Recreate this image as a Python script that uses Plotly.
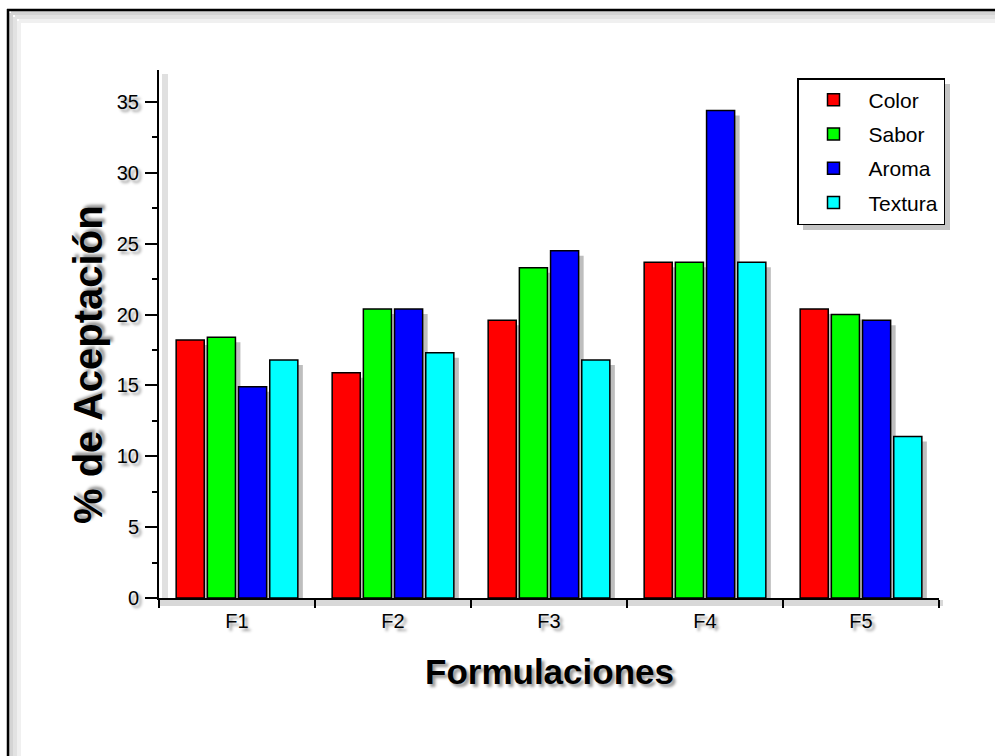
import plotly.graph_objects as go

categories = ["F1", "F2", "F3", "F4", "F5"]
color_vals = [18.2, 15.9, 19.6, 23.7, 20.4]
sabor_vals = [18.4, 20.4, 23.3, 23.7, 20.0]
aroma_vals = [14.9, 20.4, 24.5, 34.4, 19.6]
textura_vals = [16.8, 17.3, 16.8, 23.7, 11.4]

series = [
    ("Color", color_vals, "#ff0000"),
    ("Sabor", sabor_vals, "#00ff00"),
    ("Aroma", aroma_vals, "#0000ff"),
    ("Textura", textura_vals, "#00ffff"),
]

FONT = "Arial, Liberation Sans, sans-serif"
SHADOW = "3px 3px 3px #9a9a9a"

# plot area in px: x 159..939, y 70..598
W, H = 995, 756
L, R, T, B = 159, 939, 70, 598
pw, ph = R - L, B - T
YMAX = 37.26
X_PER_PX = 5 / pw          # category units per px
Y_PER_PX = YMAX / ph       # value units per px
SH = 5                     # shadow offset px

fig = go.Figure()
# drop shadows (base subplot, drawn underneath)
for name, vals, col in series:
    fig.add_trace(go.Bar(
        x=categories, y=vals, name=name, showlegend=False, hoverinfo="skip",
        marker=dict(color="rgba(110,110,110,0.45)", line=dict(width=0)),
        xaxis="x", yaxis="y",
    ))
# real bars (overlay subplot)
for name, vals, col in series:
    fig.add_trace(go.Bar(
        x=categories, y=vals, name=name, legendgroup=name,
        marker=dict(color=col, line=dict(color="#000000", width=1.5)),
        xaxis="x2", yaxis="y2",
    ))

def px(xp):
    return (xp - L) / pw

def py(yp):
    return (B - yp) / ph

shapes = []
# frame shadow (inner gray bands)
for off, c in [(3, "#d4d4d4"), (7, "#e2e2e2"), (11, "#f0f0f0")]:
    shapes.append(dict(type="line", xref="paper", yref="paper",
                       x0=px(8 + off), x1=px(8 + off), y0=py(10 + off), y1=py(H + 100),
                       line=dict(color=c, width=4), layer="below"))
    shapes.append(dict(type="line", xref="paper", yref="paper",
                       x0=px(8 + off), x1=px(W + 10), y0=py(10 + off), y1=py(10 + off),
                       line=dict(color=c, width=4), layer="below"))
# frame border
shapes.append(dict(type="line", xref="paper", yref="paper",
                   x0=px(8), x1=px(8), y0=py(9), y1=py(H + 10),
                   line=dict(color="#000000", width=2.5)))
shapes.append(dict(type="line", xref="paper", yref="paper",
                   x0=px(7), x1=px(W + 10), y0=py(10), y1=py(10),
                   line=dict(color="#000000", width=2.5)))
# axis shadows
shapes.append(dict(type="line", xref="paper", yref="paper",
                   x0=px(L + 6), x1=px(L + 6), y0=py(T + 4), y1=py(B),
                   line=dict(color="#e0e0e0", width=6), layer="below"))
shapes.append(dict(type="line", xref="paper", yref="paper",
                   x0=px(L), x1=px(R + 4), y0=py(B + 5), y1=py(B + 5),
                   line=dict(color="#d8d8d8", width=6), layer="below"))
# legend shadow
shapes.append(dict(type="rect", xref="paper", yref="paper",
                   x0=px(803), x1=px(950), y0=py(84), y1=py(230),
                   fillcolor="#c4c4c4", line=dict(width=0), layer="above"))

axis_common = dict(showgrid=False, zeroline=False)

fig.update_layout(
    width=W, height=H,
    margin=dict(l=L, r=W - R, t=T, b=H - B),
    paper_bgcolor="white", plot_bgcolor="white",
    font=dict(family=FONT, size=19, color="#000000"),
    barmode="group", bargap=0.2, bargroupgap=0.1,
    showlegend=True,
    legend=dict(
        x=px(797), y=py(78), xanchor="left", yanchor="top",
        bgcolor="white", bordercolor="#000000", borderwidth=1.5,
        font=dict(family=FONT, size=21, color="#000000"),
        tracegroupgap=4, traceorder="grouped", itemwidth=60,
    ),
    shapes=shapes,
    xaxis=dict(visible=False, range=[-0.5 - SH * X_PER_PX, 4.5 - SH * X_PER_PX],
               fixedrange=True, **axis_common),
    yaxis=dict(visible=False, range=[SH * Y_PER_PX, YMAX + SH * Y_PER_PX],
               fixedrange=True, **axis_common),
    xaxis2=dict(
        overlaying="x", anchor="y2", side="bottom", range=[-0.5, 4.5],
        showline=True, linecolor="#000000", linewidth=2,
        ticks="outside", ticklen=8, tickwidth=2, tickcolor="#000000",
        tickson="boundaries", ticklabelstandoff=4,
        tickfont=dict(family=FONT, size=20, shadow=SHADOW), **axis_common,
    ),
    yaxis2=dict(
        overlaying="y", anchor="x2", side="left",
        range=[0, YMAX], showline=True, linecolor="#000000", linewidth=2,
        ticks="outside", ticklen=12, tickwidth=2, tickcolor="#000000",
        tick0=0, dtick=5, ticklabelstandoff=2,
        tickfont=dict(family=FONT, size=20, shadow=SHADOW),
        minor=dict(ticks="outside", ticklen=5, tickwidth=2, tickcolor="#000000", dtick=2.5, showgrid=False),
        **axis_common,
    ),
    annotations=[
        dict(text="<b>% de Aceptación</b>", xref="paper", yref="paper",
             x=px(88), y=py(365), textangle=-90, showarrow=False,
             xanchor="center", yanchor="middle",
             font=dict(family=FONT, size=40, color="#000000", shadow=SHADOW)),
        dict(text="<b>Formulaciones</b>", xref="paper", yref="paper",
             x=px(549), y=py(671), showarrow=False,
             xanchor="center", yanchor="middle",
             font=dict(family=FONT, size=35, color="#000000", shadow=SHADOW)),
    ],
)

fig.write_html("out.html", config={"displayModeBar": False},
               post_script="document.body.style.margin='0';document.body.style.overflow='hidden';")
